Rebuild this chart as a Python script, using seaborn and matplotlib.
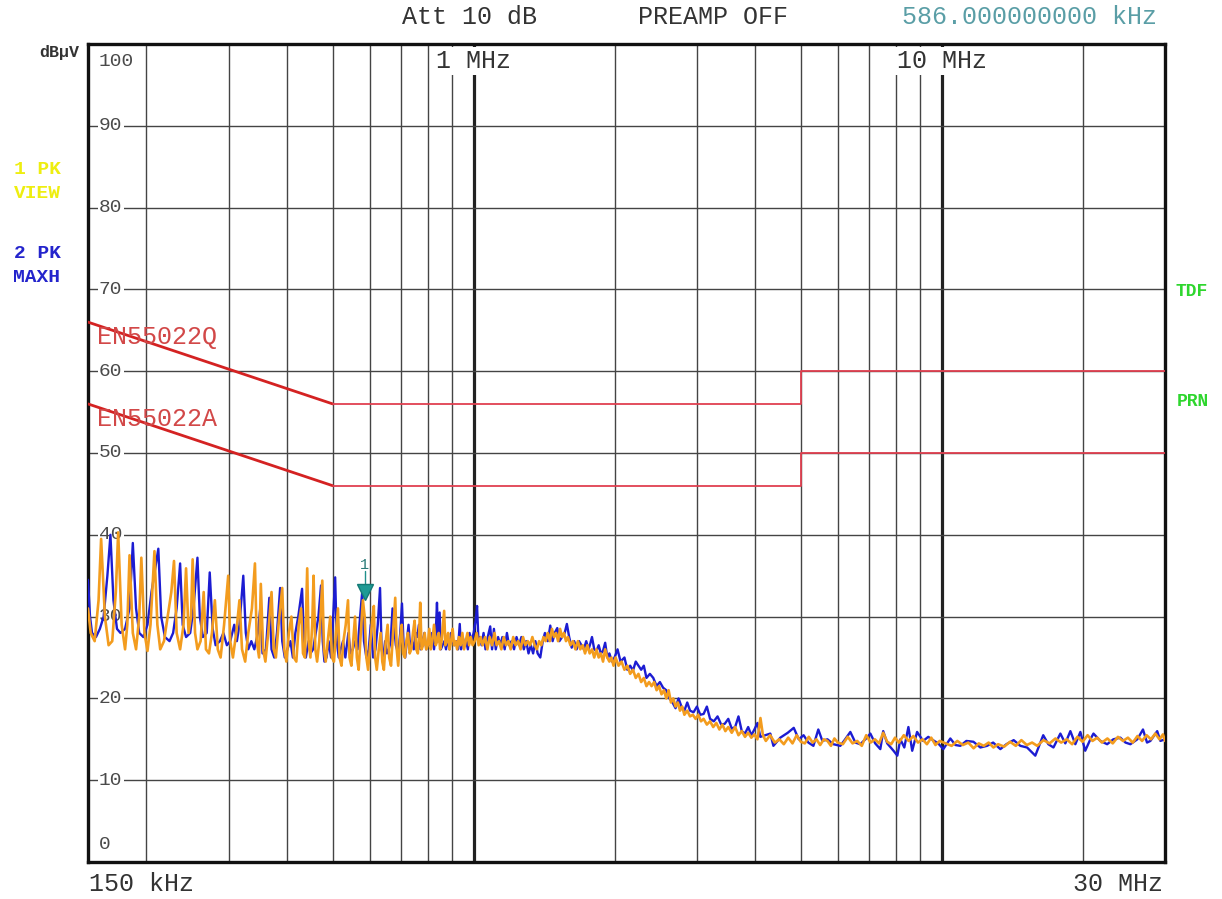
import numpy as np
import matplotlib
matplotlib.use('Agg')
import matplotlib.pyplot as plt
import seaborn as sns
from matplotlib import transforms
from matplotlib.ticker import NullLocator

# --- data (frequency in kHz, level in dBuV) ---
grid_khz = [200, 300, 400, 500, 600, 700, 800, 900,
            2000, 3000, 4000, 5000, 6000, 7000, 8000, 9000, 20000]
decade_khz = [1000, 10000]
level_ticks = [0, 10, 20, 30, 40, 50, 60, 70, 80, 90, 100]

limit_khz = [150, 500, 5000, 5000, 30000]
limit_q = [66, 56, 56, 60, 60]
limit_a = [56, 46, 46, 50, 50]

marker_khz = 586
marker_level = 33.0

# trace 2 (PK MAXH, blue)
blue_low = [
    (150, 34.5), (151.5, 30), (153, 28), (156, 27.5), (159, 28.5), (162, 30), (165, 35),
    (167.5, 40), (170, 32), (173, 28.5), (176, 28), (180, 28.5), (184, 31), (187, 39),
    (190, 31), (193, 28), (197, 27.5), (201, 29), (205, 33), (212, 38.3), (215, 30),
    (219, 27.5), (224, 27), (228, 28), (232, 31), (236, 36.5), (239, 29), (243, 27.5),
    (248, 28), (252, 31), (257, 37.2), (260, 30), (264, 27.5), (269, 28), (273, 35.4),
    (277, 28.5), (281, 26.5), (287, 27), (292, 28), (297, 26.5), (302, 27), (308, 29),
    (312, 27), (316, 29), (322, 35), (326, 28), (330, 26), (335, 27), (340, 26),
    (346, 28), (350, 31), (354, 25.5), (360, 26), (366, 32.3), (370, 26), (375, 25),
    (380, 28), (386, 33.5), (390, 27), (395, 25), (400, 26), (406, 27), (411, 25),
    (416, 28), (422, 30), (430, 33.4), (434, 27), (438, 25), (444, 27), (448, 25.5),
    (454, 26), (460, 28), (466, 30), (472, 33.8), (476, 27), (480, 24.5), (485, 25),
    (490, 27), (496, 25), (501, 30), (506, 34.8), (510, 27), (515, 25), (520, 26),
    (526, 27), (532, 25), (540, 28), (546, 25.5), (552, 26), (558, 27), (565, 26),
    (572, 30), (578, 33), (583, 27), (590, 25), (597, 26), (603, 29), (610, 25),
    (617, 26), (624, 29), (631, 33.5), (636, 26), (641, 25), (647, 27), (653, 25.5),
    (659, 26), (665, 27), (671, 31), (676, 29), (682, 26.5), (690, 25.5), (697, 28),
    (703, 31.6), (708, 27), (714, 25), (720, 27), (726, 29), (732, 26), (738, 27),
    (745, 26), (752, 28), (758, 27.5), (764, 29), (770, 26), (778, 27), (785, 28),
    (792, 26), (800, 27), (808, 26.5), (815, 28), (823, 26), (830, 28), (835, 31.7),
    (840, 27), (846, 30.5), (851, 26), (858, 26.5), (866, 27), (873, 26), (880, 27.5),
    (888, 26), (895, 28), (902, 27), (910, 26.5), (918, 27), (926, 26), (934, 29.1),
    (940, 26), (948, 27.5), (956, 26.5), (964, 27), (972, 26), (980, 28), (990, 27),
    (1000, 28), (1010, 29.5), (1017, 31.3), (1024, 27), (1032, 27.5),
]
blue_mid = [
    (1040, 26.5), (1050, 28), (1060, 26), (1072, 27.5), (1085, 28.8), (1095, 26),
    (1105, 28.5), (1115, 26), (1128, 27.5), (1140, 26.5), (1152, 27.5), (1165, 26),
    (1178, 28), (1190, 26.5), (1205, 27), (1220, 26), (1235, 27.5), (1250, 26.5),
    (1265, 27.5), (1280, 26), (1295, 27), (1310, 25.5), (1325, 26.5), (1340, 25.5),
    (1355, 27), (1370, 25.5), (1388, 25), (1405, 27), (1420, 28), (1440, 27),
    (1458, 28.9), (1475, 27), (1490, 28), (1509, 28.6), (1525, 27), (1545, 27.5),
    (1565, 28), (1582, 29.1), (1600, 27.5), (1620, 26.2), (1640, 27), (1660, 26),
    (1680, 27), (1700, 26.5), (1720, 26), (1740, 27), (1760, 26), (1775, 26.7),
    (1790, 27.5), (1810, 26), (1830, 25.8), (1850, 26.5), (1870, 25.5), (1890, 25.8),
    (1910, 26.8), (1930, 25), (1950, 25.5), (1975, 24.5), (2000, 25), (2030, 26),
    (2060, 24.5), (2100, 25), (2130, 23.5), (2160, 24), (2190, 23.4), (2220, 24.5),
    (2250, 24), (2280, 23.5), (2310, 24), (2340, 22.5), (2380, 23), (2420, 22.5),
    (2460, 21.5), (2500, 22), (2540, 21.3), (2580, 21), (2620, 20), (2660, 19.5),
    (2700, 18.8), (2740, 20), (2780, 19), (2820, 18.5), (2860, 19.5), (2900, 18.5),
    (2950, 18.3), (3000, 19), (3050, 18), (3100, 18.1), (3150, 19), (3200, 17.5),
    (3260, 17.2), (3320, 17.8), (3380, 16.8), (3440, 16.9), (3500, 17.5), (3560, 16.3),
    (3620, 16.5), (3680, 17.8), (3740, 16), (3800, 15.7), (3860, 16.5), (3920, 15.5),
    (3980, 16.2), (4040, 17),
]
blue_high = [
    (4097, 15.3), (4304, 15.7), (4370, 14.2), (4521, 15.2), (4690, 15.8), (4830, 16.4),
    (4950, 15), (5070, 15.5), (5190, 14.6), (5320, 14.2), (5450, 16.2), (5560, 14.8),
    (5700, 15), (5870, 14.4), (6073, 14.2), (6220, 15), (6380, 15.9), (6540, 14.6),
    (6700, 14.4), (6870, 15), (7040, 15.7), (7210, 14.5), (7394, 13.8), (7500, 16),
    (7650, 14.5), (7890, 13.6), (8040, 13), (8160, 15), (8320, 14), (8490, 16.5),
    (8650, 13.6), (8860, 15.9), (9130, 14.8), (9360, 15.3), (9580, 14.9), (9830, 14.5),
    (10080, 13.8), (10435, 15.1), (10700, 14.3), (10961, 14.2), (11290, 14.8),
    (11690, 14.7), (12095, 14), (12500, 14.2), (12880, 14.6), (13346, 13.8),
    (13750, 14.4), (14250, 14.9), (14726, 14.2), (15220, 14), (15850, 13),
    (16480, 15.5), (16900, 14.4), (17330, 14), (17930, 15.7), (18370, 14.5),
    (18834, 16), (19300, 14.4), (19784, 15.9), (20260, 13.6), (20782, 15),
    (21100, 15.7), (21830, 14.8), (22570, 14.4), (23270, 15), (24088, 15.2),
    (24700, 14.6), (25303, 14.4), (26180, 15), (26920, 16.2), (27460, 14.6),
    (27920, 14.8), (28870, 16), (29329, 14.8), (30000, 15),
]

# trace 1 (PK VIEW, orange)
orange_low = [
    (150, 31), (152, 28), (155, 27), (158, 32), (160, 39.5), (163, 30), (166, 26.5),
    (169, 27), (172, 33), (174, 40.3), (177, 29), (180, 26), (182, 29), (184, 37.5),
    (187, 28), (190, 26), (193, 30), (195, 37.2), (198, 28), (201, 25.8), (204, 29),
    (208, 38), (211, 29), (214, 26), (218, 27), (222, 30), (226, 33), (229, 36.8),
    (232, 28), (236, 26), (240, 29), (243, 35.9), (246, 28), (249, 30), (251, 37),
    (254, 28), (257, 26), (261, 27), (265, 33), (268, 26), (272, 25.5), (276, 28),
    (280, 32), (284, 26), (288, 25), (293, 29), (299, 35), (302, 27), (306, 25),
    (311, 28), (316, 32), (320, 26), (325, 24.5), (330, 28), (336, 31), (341, 36.5),
    (344, 27), (348, 25), (351, 34), (355, 26), (359, 24.5), (364, 28), (370, 33),
    (374, 26), (378, 25), (383, 29), (390, 33.5), (394, 26), (398, 24.5), (403, 28),
    (408, 30), (413, 25), (418, 24.5), (423, 29), (428, 31), (432, 25.5), (436, 25),
    (441, 35.9), (444, 27), (448, 25), (452, 29), (455, 35), (459, 26), (463, 24.5),
    (468, 27), (475, 34.4), (479, 26), (483, 24.5), (488, 27), (494, 30), (498, 25),
    (503, 24.5), (508, 28), (513, 31), (517, 25), (522, 24), (527, 27), (533, 29),
    (539, 32), (543, 25), (548, 24), (553, 27), (558, 30), (563, 25), (568, 23.5),
    (574, 28), (580, 32), (585, 30), (590, 25), (595, 23.5), (600, 26), (606, 29),
    (612, 31.3), (616, 25), (621, 23.5), (627, 26), (633, 28), (638, 24.5), (643, 23.5),
    (649, 27), (655, 29), (660, 25), (666, 24), (671, 27), (676, 30), (680, 32.3),
    (685, 26), (690, 24), (696, 27), (702, 29), (707, 25.5), (713, 25), (718, 27),
    (724, 28), (730, 25.5), (736, 26), (742, 28), (748, 29.5), (754, 26), (760, 25.5),
    (765, 28), (769, 31.7), (774, 26), (780, 26.5), (786, 28), (792, 26), (798, 26.5),
    (804, 28.5), (810, 26), (816, 27), (823, 29), (830, 26.5), (836, 27), (842, 28),
    (848, 26), (854, 27), (860, 29), (865, 30.7), (870, 26.5), (876, 27), (882, 28),
    (888, 26), (895, 27), (902, 28.5), (908, 26.5), (915, 27), (922, 26), (930, 27.5),
    (938, 26.5), (946, 28), (954, 26), (962, 27), (970, 28), (978, 26.5), (986, 27.5),
    (995, 26.5), (1005, 27), (1015, 28), (1025, 26.5), (1035, 27.5),
]
orange_mid = [
    (1045, 26.5), (1058, 27.5), (1070, 26), (1082, 27.5), (1095, 26.5), (1108, 28),
    (1120, 26.5), (1133, 27), (1146, 26), (1160, 27.5), (1173, 26.5), (1186, 27),
    (1200, 26), (1215, 27.5), (1230, 26.5), (1245, 27), (1260, 26), (1275, 27.5),
    (1290, 26.5), (1305, 27), (1320, 26.5), (1335, 27.5), (1350, 26.5), (1365, 26),
    (1380, 27), (1395, 26.5), (1410, 27.5), (1425, 27), (1440, 28), (1455, 27),
    (1470, 28.5), (1485, 27.5), (1500, 28), (1515, 27), (1530, 28.5), (1545, 27.5),
    (1560, 28), (1575, 27), (1590, 27.5), (1610, 26.5), (1630, 27), (1650, 26),
    (1670, 27), (1690, 26), (1710, 26.5), (1730, 25.5), (1750, 26.5), (1770, 25.5),
    (1790, 26), (1810, 25), (1830, 26), (1850, 25), (1870, 25.5), (1890, 24.5),
    (1910, 26), (1930, 25), (1950, 24.5), (1970, 25), (1990, 24), (2010, 25),
    (2040, 24), (2070, 24.5), (2100, 23.5), (2130, 24), (2160, 23), (2190, 23.5),
    (2220, 22.5), (2250, 23), (2280, 22), (2310, 22.5), (2340, 21.5), (2370, 22),
    (2400, 21.5), (2430, 22), (2460, 21), (2490, 21.5), (2520, 20.5), (2550, 21),
    (2580, 20), (2610, 21), (2640, 19.5), (2670, 20), (2700, 19), (2730, 19.5),
    (2760, 18.5), (2790, 19), (2820, 18), (2860, 18.5), (2900, 17.8), (2940, 18),
    (2980, 17.5), (3020, 18), (3060, 17.2), (3100, 17.5), (3150, 16.8), (3200, 17.2),
    (3250, 16.5), (3300, 17), (3350, 16.2), (3400, 16.8), (3450, 16), (3500, 16.5),
    (3560, 15.8), (3620, 16.5), (3680, 15.5), (3740, 16), (3800, 15.3), (3860, 15.8),
    (3920, 15.2), (3980, 15.6), (4040, 15), (4100, 17.6),
]
orange_high = [
    (4150, 15.5), (4210, 14.8), (4300, 15.5), (4400, 14.6), (4500, 15), (4600, 14.4),
    (4700, 15.2), (4800, 14.5), (4900, 15.5), (5000, 14.7), (5100, 14.5), (5200, 15.3),
    (5300, 14.6), (5400, 15), (5500, 14.3), (5600, 15), (5700, 14.8), (5800, 14.2),
    (5900, 15.1), (6000, 14.6), (6150, 14.4), (6300, 15.3), (6450, 14.5), (6600, 14.8),
    (6750, 14.2), (6900, 15.5), (7050, 14.6), (7200, 15), (7350, 14.5), (7500, 15.8),
    (7650, 14.7), (7800, 14.4), (7950, 15.2), (8100, 14.6), (8300, 15.5), (8500, 14.8),
    (8700, 15.4), (8900, 14.6), (9100, 15), (9300, 14.4), (9500, 15.2), (9700, 14.3),
    (9900, 14.8), (10200, 14.5), (10500, 14.2), (10800, 14.8), (11100, 14.3),
    (11400, 14.6), (11700, 13.9), (12000, 14.5), (12300, 14.2), (12600, 14.6),
    (12900, 14), (13200, 14.4), (13600, 14.1), (14000, 14.7), (14400, 14.2),
    (14800, 14.9), (15200, 14.3), (15600, 14.6), (16000, 14.2), (16500, 14.9),
    (17000, 14.5), (17500, 15.1), (18000, 14.6), (18500, 15), (19000, 14.4),
    (19500, 15.3), (20000, 14.7), (20500, 15.5), (21000, 14.8), (21500, 15.2),
    (22000, 14.6), (22600, 15.1), (23200, 14.5), (23800, 15.3), (24400, 14.8),
    (25000, 15.2), (25600, 14.6), (26200, 15.4), (26800, 14.8), (27400, 15.5),
    (28000, 15), (28600, 15.7), (29200, 15), (29700, 15.6), (30000, 14.8),
]

blue = np.array(blue_low + blue_mid + blue_high)
orange = np.array(orange_low + orange_mid + orange_high)

# --- style ---
sns.set_style('white')
plt.rcParams['font.family'] = ['Liberation Mono', 'DejaVu Sans Mono', 'DejaVu Sans']
TXT = '#333333'
GRID = '#444444'

fig = plt.figure(figsize=(12.22, 8.99), dpi=100)
ax = fig.add_axes([88 / 1222, 1 - 862 / 899, 1077 / 1222, 818 / 899])
ax.set_xscale('log')
ax.set_xlim(150, 30000)
ax.set_ylim(0, 100)
ax.set_xticks([])
ax.set_yticks([])
ax.xaxis.set_minor_locator(NullLocator())
for s in ax.spines.values():
    s.set_linewidth(2.4)
    s.set_color('#111111')

# grid
for f in grid_khz:
    ax.axvline(f, color=GRID, lw=1.0, zorder=1)
for f in decade_khz:
    ax.axvline(f, color='#222222', lw=2.3, zorder=1)
for v in level_ticks[1:-1]:
    ax.axhline(v, color=GRID, lw=1.0, zorder=1)

# level labels inside the frame
trans = transforms.blended_transform_factory(ax.transAxes, ax.transData)
for v in level_ticks:
    y = 97.9 if v == 100 else (2.2 if v == 0 else v)
    ax.text(0.0102, y, str(v), transform=trans, ha='left', va='center',
            fontsize=14, color='#4a4a4a', zorder=3,
            bbox=dict(fc='white', ec='none', pad=1.0))

# decade labels at the top
for f, lab in zip(decade_khz, ['1 MHz', '10 MHz']):
    ax.text(f, 97.9, lab, ha='center', va='center', fontsize=18, color=TXT, zorder=3,
            bbox=dict(fc='white', ec='none', pad=1.5))

# limit lines
ax.plot(limit_khz[:2], limit_q[:2], color='#d42222', lw=2.0, zorder=3)
ax.plot(limit_khz[1:], limit_q[1:], color='#e04050', lw=1.3, zorder=3)
ax.plot(limit_khz[:2], limit_a[:2], color='#d42222', lw=2.0, zorder=3)
ax.plot(limit_khz[1:], limit_a[1:], color='#e04050', lw=1.3, zorder=3)
ax.text(156.5, 64.2, 'EN55022Q', fontsize=18, color='#d24848', va='center', zorder=3)
ax.text(156.5, 54.2, 'EN55022A', fontsize=18, color='#d24848', va='center', zorder=3)

# traces
sns.lineplot(x=blue[:, 0], y=blue[:, 1], ax=ax, color='#1c1cd2', lw=1.7,
             estimator=None, sort=False, zorder=4)
sns.lineplot(x=orange[:, 0], y=orange[:, 1], ax=ax, color='#f39c1e', lw=1.9,
             estimator=None, sort=False, zorder=5)

# marker 1
ax.plot([marker_khz, marker_khz], [marker_level + 0.6, marker_level + 2.6],
        color='#1f8f8a', lw=1.0, zorder=6)
ax.plot([marker_khz], [marker_level], marker='v', ms=11, color='#1e9a94',
        mec='#137a75', zorder=6)
ax.text(marker_khz, marker_level + 3.3, '1', fontsize=11, color='#2a7a78',
        ha='center', va='center', zorder=6)

# texts around the screen
def ftext(x, y, s, **kw):
    fig.text(x / 1222, 1 - y / 899, s, va='center', **kw)

ftext(470, 17, 'Att 10 dB', ha='center', fontsize=18, color=TXT)
ftext(713, 17, 'PREAMP OFF', ha='center', fontsize=18, color=TXT)
ftext(1030, 17, '586.000000000 kHz', ha='center', fontsize=18, color='#5a9ea6')
ftext(59, 52, 'dBµV', ha='center', fontsize=12, fontweight='bold', color=TXT)
ftext(37, 170, '1 PK', ha='center', fontsize=14, fontweight='bold', color='#eeee10')
ftext(37, 194, 'VIEW', ha='center', fontsize=14, fontweight='bold', color='#eeee10')
ftext(37, 253, '2 PK', ha='center', fontsize=14, fontweight='bold', color='#2424cc')
ftext(37, 278, 'MAXH', ha='center', fontsize=14, fontweight='bold', color='#2424cc')
ftext(1192, 292, 'TDF', ha='center', fontsize=13, fontweight='bold', color='#2ed62e')
ftext(1193, 401, 'PRN', ha='center', fontsize=13, fontweight='bold', color='#2ed62e')
ftext(89, 884, '150 kHz', ha='left', fontsize=18, color=TXT)
ftext(1163, 884, '30 MHz', ha='right', fontsize=18, color=TXT)

fig.savefig('out.png', dpi=100)
